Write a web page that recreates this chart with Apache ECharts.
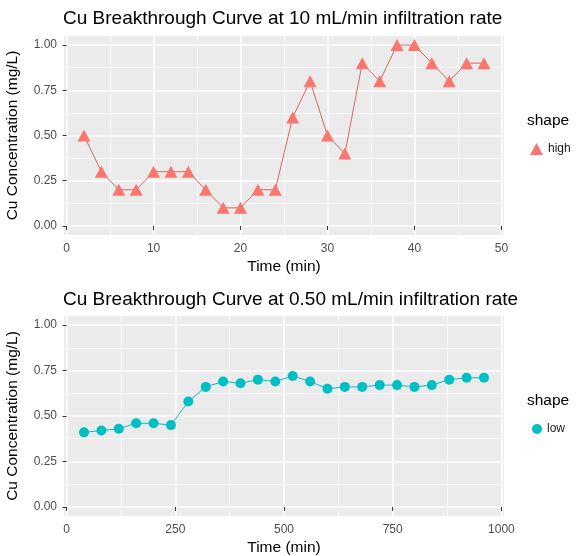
<!DOCTYPE html>
<html>
<head>
<meta charset="utf-8">
<script src="https://cdn.jsdelivr.net/npm/echarts@6/dist/echarts.min.js"></script>
<style>
html,body{margin:0;padding:0;background:#fff;}
#chart{width:583px;height:556px;}
</style>
</head>
<body>
<div id="chart"></div>
<script>
// ---- data ----
var titleHigh = 'Cu Breakthrough Curve at 10 mL/min infiltration rate';
var titleLow = 'Cu Breakthrough Curve at 0.50 mL/min infiltration rate';
var timeHigh = [2,4,6,8,10,12,14,16,18,20,22,24,26,28,30,32,34,36,38,40,42,44,46,48];
var concHigh = [0.5,0.3,0.2,0.2,0.3,0.3,0.3,0.2,0.1,0.1,0.2,0.2,0.6,0.8,0.5,0.4,0.9,0.8,1.0,1.0,0.9,0.8,0.9,0.9];
var timeLow = [40,80,120,160,200,240,280,320,360,400,440,480,520,560,600,640,680,720,760,800,840,880,920,960];
var concLow = [0.41,0.42,0.43,0.46,0.46,0.45,0.58,0.66,0.69,0.68,0.70,0.69,0.72,0.69,0.65,0.66,0.66,0.67,0.67,0.66,0.67,0.70,0.71,0.71];
var xTicksHigh = [0,10,20,30,40,50];
var xMinorHigh = [5,15,25,35,45];
var xTicksLow = [0,250,500,750,1000];
var xMinorLow = [125,375,625,875];
var yTicks = [0,0.25,0.5,0.75,1];
var yMinor = [0.125,0.375,0.625,0.875];
var legendTitle = 'shape';
var nameHigh = 'high';
var nameLow = 'low';
var xName = 'Time (min)';
var yName = 'Cu Concentration (mg/L)';

function pairs(xs, ys){ return xs.map(function(x,i){ return [x, ys[i]]; }); }
function expand(arr, mult){ var lo=Math.min.apply(null,arr), hi=Math.max.apply(null,arr), d=(hi-lo)*mult; return [lo-d, hi+d]; }

var xrH = expand(timeHigh, 0.05);
var xrL = expand(timeLow, 0.05);
var yr = [-0.05, 1.05];

var FONT = 'Liberation Sans, Arial, sans-serif';
var tickLabelStyle = {color:'#4D4D4D', fontSize:12, fontFamily:FONT};
var majorSplit = {show:true, lineStyle:{color:'#FFFFFF', width:1.5}};
var minorSplit = {show:true, lineStyle:{color:'#FFFFFF', width:0.7}};

function majorX(grid, range, ticks){
  return {type:'value', gridIndex:grid, min:range[0], max:range[1], position:'bottom',
    name:xName, nameLocation:'middle', nameGap:24,
    nameTextStyle:{color:'#000', fontSize:15.5, fontFamily:FONT},
    axisLine:{show:false},
    axisTick:{show:true, length:4, customValues:ticks, lineStyle:{color:'#333333', width:1}},
    axisLabel:Object.assign({margin:8, customValues:ticks, formatter:function(v){return String(v);}}, tickLabelStyle),
    splitLine:majorSplit, z:2};
}
function minorX(grid, range, ticks){
  return {type:'value', gridIndex:grid, min:range[0], max:range[1], position:'bottom',
    axisLine:{show:false}, axisTick:{show:false, customValues:ticks},
    axisLabel:{show:false, customValues:ticks}, splitLine:minorSplit, z:1};
}
function majorY(grid){
  return {type:'value', gridIndex:grid, min:yr[0], max:yr[1], position:'left',
    name:yName, nameLocation:'middle', nameGap:43, nameRotate:90,
    nameTextStyle:{color:'#000', fontSize:15.5, fontFamily:FONT},
    axisLine:{show:false},
    axisTick:{show:true, length:4, customValues:yTicks, lineStyle:{color:'#333333', width:1}},
    axisLabel:Object.assign({margin:7, customValues:yTicks, formatter:function(v){return v.toFixed(2);}}, tickLabelStyle),
    splitLine:majorSplit, z:2};
}
function minorY(grid){
  return {type:'value', gridIndex:grid, min:yr[0], max:yr[1], position:'left',
    axisLine:{show:false}, axisTick:{show:false, customValues:yMinor},
    axisLabel:{show:false, customValues:yMinor}, splitLine:minorSplit, z:1};
}

var chart = echarts.init(document.getElementById('chart'), null, {renderer:'canvas'});
chart.setOption({
  animation:false,
  backgroundColor:'#FFFFFF',
  title:[
    {text:titleHigh, left:63, top:9, padding:0, textStyle:{color:'#000', fontSize:19, fontWeight:'normal', fontFamily:FONT}},
    {text:titleLow, left:63, top:290, padding:0, textStyle:{color:'#000', fontSize:19, fontWeight:'normal', fontFamily:FONT}},
    {text:legendTitle, left:527, top:113, padding:0, textStyle:{color:'#000', fontSize:15.5, fontWeight:'normal', fontFamily:FONT}},
    {text:legendTitle, left:527, top:393, padding:0, textStyle:{color:'#000', fontSize:15.5, fontWeight:'normal', fontFamily:FONT}}
  ],
  legend:[
    {data:[{name:nameHigh, icon:'triangle'}], left:530, top:143, padding:0, itemWidth:13, itemHeight:12, itemGap:0,
     textStyle:{color:'#1A1A1A', fontSize:12, fontFamily:FONT}, selectedMode:false},
    {data:[{name:nameLow, icon:'circle'}], left:532, top:423, padding:0, itemWidth:10, itemHeight:10, itemGap:0,
     textStyle:{color:'#1A1A1A', fontSize:12, fontFamily:FONT}, selectedMode:false}
  ],
  grid:[
    {left:64, top:36, width:440, height:199, show:true, backgroundColor:'#EBEBEB', borderWidth:0, outerBoundsMode:'none', containLabel:false},
    {left:64, top:316, width:440, height:200, show:true, backgroundColor:'#EBEBEB', borderWidth:0, outerBoundsMode:'none', containLabel:false}
  ],
  xAxis:[ majorX(0, xrH, xTicksHigh), minorX(0, xrH, xMinorHigh), majorX(1, xrL, xTicksLow), minorX(1, xrL, xMinorLow) ],
  yAxis:[ majorY(0), minorY(0), majorY(1), minorY(1) ],
  series:[
    {name:nameHigh, type:'line', xAxisIndex:0, yAxisIndex:0, data:pairs(timeHigh, concHigh),
     symbol:'triangle', symbolSize:[13,12], itemStyle:{color:'#F8766D'},
     lineStyle:{color:'#D9675F', width:1}, z:5},
    {name:nameLow, type:'line', xAxisIndex:2, yAxisIndex:2, data:pairs(timeLow, concLow),
     symbol:'circle', symbolSize:10, itemStyle:{color:'#00BFC4'},
     lineStyle:{color:'#00BFC4', width:1}, z:5}
  ]
});
</script>
</body>
</html>
